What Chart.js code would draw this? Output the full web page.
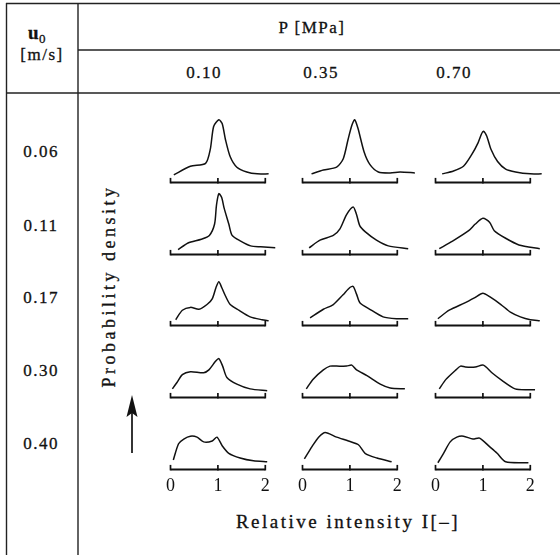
<!DOCTYPE html>
<html><head><meta charset="utf-8">
<script src="https://cdn.jsdelivr.net/npm/chart.js@4/dist/chart.umd.min.js"></script>
<style>
html,body{margin:0;padding:0;background:#fff;}
#wrap{position:relative;width:560px;height:555px;overflow:hidden;font-family:"Liberation Serif","DejaVu Serif",serif;color:#111;}
#lines{position:absolute;left:0;top:0;}
.txt{position:absolute;white-space:nowrap;transform:translate(-50%,-50%);font-size:17px;letter-spacing:1.5px;line-height:1;-webkit-text-stroke:0.3px #111;}
.cell{position:absolute;}
</style></head>
<body>
<div id="wrap">
<svg id="lines" width="560" height="555">
  <g stroke="#222" stroke-width="1.4" fill="none">
    <line x1="6" y1="3.5" x2="560" y2="3.5"/>
    <line x1="6.5" y1="3" x2="6.5" y2="555"/>
    <line x1="78" y1="3" x2="78" y2="555"/>
    <line x1="78" y1="50" x2="560" y2="50"/>
    <line x1="6" y1="93" x2="560" y2="93"/>
  </g>
  <line x1="132" y1="453" x2="132" y2="410" stroke="#111" stroke-width="1.7"/>
  <polygon points="132,395 126.5,417 132,413 137.5,417" fill="#111"/>
</svg>
<div class="txt" style="left:37px;top:34px;font-weight:bold;font-size:19px;letter-spacing:0.5px;">u<sub style="font-size:13px;font-weight:normal;position:relative;top:-1px;">0</sub></div>
<div class="txt" style="left:42px;top:54px;">[m/s]</div>
<div class="txt" style="left:312px;top:27px;">P [MPa]</div>
<div id="ylab" class="txt" style="left:109px;top:286px;transform:translate(-50%,-50%) rotate(-90deg);font-size:18px;letter-spacing:3.5px;">Probability density</div>
<div class="txt" style="left:348px;top:521px;font-size:19px;letter-spacing:2.5px;">Relative intensity I[–]</div>
</div>
<script>
// ---- data ----
const pressures = ["0.10", "0.35", "0.70"];          // P [MPa] (columns)
const velocities = ["0.06", "0.11", "0.17", "0.30", "0.40"]; // u0 [m/s] (rows)
const intensityTicks = [0, 1, 2];                     // Relative intensity I [-]

// probability density (arbitrary units) vs relative intensity I
const u006_p010 = [[0.07,8],[0.42,17],[0.74,20],[0.84,35],[0.91,59],[1.02,66],[1.09,62],[1.16,45],[1.26,27],[1.40,16],[1.61,11],[1.83,9],[2.07,9]];
const u006_p035 = [[0.19,9],[0.44,13],[0.72,16],[0.86,25],[0.96,45],[1.04,60],[1.10,66],[1.17,57],[1.30,32],[1.42,19],[1.60,11],[1.85,10],[2.06,11],[2.37,10]];
const u006_p070 = [[0.14,9],[0.38,12],[0.59,17],[0.76,29],[0.90,42],[0.97,51],[1.01,54],[1.08,49],[1.17,35],[1.31,22],[1.48,14],[1.69,11],[2.00,9],[2.24,9]];
const u011_p010 = [[0.16,5],[0.37,12],[0.65,16],[0.82,20],[0.93,32],[0.97,52],[1.02,64],[1.08,60],[1.13,49],[1.23,32],[1.30,20],[1.48,14],[1.69,9],[1.90,8],[2.21,7]];
const u011_p035 = [[0.14,7],[0.37,15],[0.65,20],[0.79,27],[0.93,42],[1.07,50],[1.14,42],[1.21,30],[1.32,24],[1.56,15],[1.81,9],[2.23,6]];
const u011_p070 = [[0.08,6],[0.36,14],[0.70,25],[0.84,32],[1.00,38],[1.14,34],[1.24,25],[1.48,17],[1.76,10],[2.20,6]];
const u017_p010 = [[0.11,6],[0.25,16],[0.42,19],[0.60,17],[0.77,22],[0.88,28],[0.96,40],[1.02,46],[1.08,40],[1.16,31],[1.26,22],[1.44,16],[1.68,9],[1.93,6],[2.07,5]];
const u017_p035 = [[0.16,8],[0.44,17],[0.65,22],[0.85,32],[1.00,40],[1.07,41],[1.14,33],[1.21,24],[1.42,17],[1.70,9],[1.99,7],[2.23,7]];
const u017_p070 = [[0.05,7],[0.29,16],[0.63,24],[0.82,29],[1.00,34],[1.15,30],[1.38,22],[1.58,14],[1.79,9],[2.00,6],[2.20,5]];
const u030_p010 = [[0.04,9],[0.14,16],[0.25,24],[0.42,27],[0.70,26],[0.81,29],[0.95,38],[1.02,41],[1.10,33],[1.19,21],[1.40,14],[1.68,9],[2.04,7]];
const u030_p035 = [[0.08,9],[0.22,19],[0.44,29],[0.58,33],[0.72,33],[0.93,33],[1.04,34],[1.14,29],[1.36,23],[1.64,14],[1.85,10],[2.16,9]];
const u030_p070 = [[0.08,9],[0.22,19],[0.43,29],[0.53,33],[0.63,32],[0.84,32],[1.01,34],[1.19,26],[1.40,18],[1.68,9],[1.96,8],[2.10,8]];
const u040_p010 = [[0.06,10],[0.17,27],[0.28,32],[0.42,35],[0.56,34],[0.70,29],[0.88,30],[0.98,34],[1.09,25],[1.23,17],[1.47,12],[1.75,9],[2.04,8]];
const u040_p035 = [[0.04,11],[0.20,24],[0.34,34],[0.48,39],[0.72,34],[0.97,30],[1.18,26],[1.32,17],[1.57,12],[1.88,8]];
const u040_p070 = [[0.05,7],[0.17,17],[0.31,29],[0.45,34],[0.59,35],[0.79,32],[0.93,33],[1.14,24],[1.30,17],[1.48,8],[1.96,7]];

const curves = [
  [u006_p010, u006_p035, u006_p070],
  [u011_p010, u011_p035, u011_p070],
  [u017_p010, u017_p035, u017_p070],
  [u030_p010, u030_p035, u030_p070],
  [u040_p010, u040_p035, u040_p070]
];

// ---- layout ----
const wrap = document.getElementById('wrap');
const colZeroX = [170, 302.5, 435.5];
const rowAxisY = [182, 254, 325, 397, 469];
const FONT = '"Liberation Serif","DejaVu Serif",serif';

const colLabelX = [204, 321, 454];
pressures.forEach((p, i) => {
  const d = document.createElement('div'); d.className = 'txt';
  d.style.left = colLabelX[i] + 'px'; d.style.top = '72px'; d.textContent = p; wrap.appendChild(d);
});
const rowLabelY = [151, 225, 297, 370, 443];
velocities.forEach((v, i) => {
  const d = document.createElement('div'); d.className = 'txt';
  d.style.left = '41px'; d.style.top = rowLabelY[i] + 'px'; d.textContent = v; wrap.appendChild(d);
});

const axisPlugin = {
  id: 'miniAxis',
  afterDatasetsDraw(chart) {
    const {ctx, scales: {x, y}} = chart;
    const y0 = y.getPixelForValue(0);
    ctx.save();
    ctx.strokeStyle = '#111';
    ctx.lineWidth = 2;
    ctx.beginPath();
    ctx.moveTo(x.getPixelForValue(intensityTicks[0]), y0);
    ctx.lineTo(x.getPixelForValue(intensityTicks[intensityTicks.length - 1]), y0);
    ctx.stroke();
    ctx.lineWidth = 1.7;
    intensityTicks.forEach(v => {
      const px = x.getPixelForValue(v);
      ctx.beginPath(); ctx.moveTo(px, y0 + 1); ctx.lineTo(px, y0 - 4.5); ctx.stroke();
    });
    ctx.restore();
  }
};

curves.forEach((row, r) => {
  row.forEach((pts, c) => {
    const cell = document.createElement('div'); cell.className = 'cell';
    const cv = document.createElement('canvas'); cv.width = 129; cv.height = 100;
    cell.appendChild(cv); wrap.appendChild(cell);
    const isBottom = r === curves.length - 1;
    const chart = new Chart(cv, {
      type: 'line',
      data: { datasets: [{
        data: pts.map(([x, y]) => ({x, y})),
        borderColor: '#111', borderWidth: 1.5, pointRadius: 0, tension: 0.25,
        fill: false, clip: 6
      }]},
      options: {
        responsive: false, animation: false, events: [],
        layout: { padding: 0 },
        plugins: { legend: { display: false }, tooltip: { enabled: false } },
        scales: {
          x: {
            type: 'linear', min: -0.2, max: 2.5,
            afterBuildTicks: s => { s.ticks = intensityTicks.map(v => ({value: v})); },
            grid: { display: false, drawTicks: false }, border: { display: false },
            ticks: { color: isBottom ? '#111' : 'rgba(0,0,0,0)', font: { family: FONT, size: 18 },
                     padding: 6, maxRotation: 0, autoSkip: false, callback: v => String(v) }
          },
          y: { display: false, min: 0, max: 70 }
        }
      },
      plugins: [axisPlugin]
    });
    const ox = chart.scales.x.getPixelForValue(0);
    const oy = chart.scales.y.getPixelForValue(0);
    cell.style.left = (colZeroX[c] - ox) + 'px';
    cell.style.top = (rowAxisY[r] - oy) + 'px';
  });
});
</script>
</body></html>
